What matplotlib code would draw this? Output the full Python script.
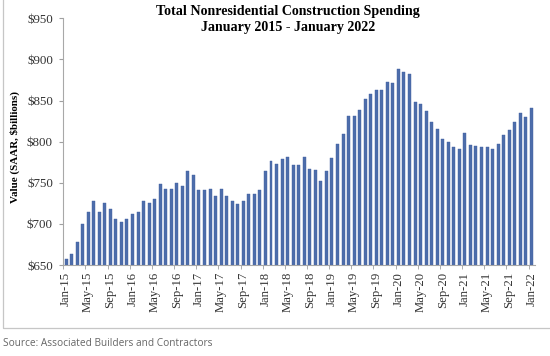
import matplotlib

matplotlib.use("Agg")
import matplotlib.pyplot as plt
import numpy as np
from matplotlib.patches import Rectangle

# monthly nonresidential construction spending, SAAR, $ billions
months = [f"{m}-{y:02d}" for y in range(15, 23) for m in
          ["Jan", "Feb", "Mar", "Apr", "May", "Jun",
           "Jul", "Aug", "Sep", "Oct", "Nov", "Dec"]][:85]
spend_2015 = [657, 663, 678, 700, 715, 728, 715, 726, 718, 706, 702, 706]
spend_2016 = [712, 715, 728, 726, 730, 748, 742, 743, 750, 746, 764, 760]
spend_2017 = [741, 741, 742, 734, 743, 734, 728, 724, 728, 736, 736, 741]
spend_2018 = [764, 777, 773, 779, 781, 771, 771, 781, 767, 766, 752, 764]
spend_2019 = [780, 797, 809, 831, 831, 839, 852, 858, 863, 863, 872, 871]
spend_2020 = [888, 885, 882, 848, 846, 837, 824, 815, 803, 800, 794, 791]
spend_2021 = [811, 796, 795, 793, 793, 791, 797, 808, 814, 824, 835, 830]
spend_2022 = [841]
spending = (spend_2015 + spend_2016 + spend_2017 + spend_2018
            + spend_2019 + spend_2020 + spend_2021 + spend_2022)
y_ticks = [650, 700, 750, 800, 850, 900, 950]

serif = ["Liberation Serif", "DejaVu Serif"]

fig = plt.figure(figsize=(5.5, 3.56), dpi=100)
fig.patch.set_facecolor("white")

# light grey frame around the chart
fig.patches.append(Rectangle((3 / 550, 1 - 328 / 356), 550 / 550, 330 / 356,
                             transform=fig.transFigure, fill=False,
                             edgecolor="#c6c6c6", linewidth=0.9))

ax = fig.add_axes([62.7 / 550, 1 - 265 / 356, 472 / 550, 246.7 / 356])
x = np.arange(len(spending))
ax.bar(x, np.array(spending) - 650, bottom=650, width=0.54,
       color="#4d6dab", edgecolor="#3f5f9f", linewidth=0.3)

ax.set_ylim(650, 950)
ax.set_xlim(-0.6, len(spending) - 0.4)
ax.set_yticks(y_ticks)
ax.set_yticklabels([f"${v}" for v in y_ticks], family=serif, fontsize=9.4,
                   color="#333333")
ax.set_xticks(x[::4])
ax.set_xticklabels(months[::4], rotation=90, family=serif, fontsize=9.2,
                   color="#333333")
ax.set_xticks(x[::4] - 0.5, minor=True)
ax.tick_params(axis="x", which="major", length=0, pad=5)
ax.tick_params(axis="x", which="minor", length=3, color="#a0a0a0")
ax.tick_params(axis="y", length=3, color="#a0a0a0", pad=4)

for side in ["top", "right"]:
    ax.spines[side].set_visible(False)
ax.spines["left"].set_color("#a8a8a8")
ax.spines["bottom"].set_color("#a8a8a8")

ax.set_ylabel("Value (SAAR, $billions)", family=serif, fontsize=7.9,
              fontweight="bold")
ax.yaxis.set_label_coords(-0.09, 0.478)

fig.text(288 / 550, 1 - 11 / 356, "Total Nonresidential Construction Spending",
         ha="center", va="center", family=serif, fontsize=10.1,
         fontweight="bold")
fig.text(288 / 550, 1 - 27 / 356, "January 2015 - January 2022",
         ha="center", va="center", family=serif, fontsize=10.1,
         fontweight="bold")

fig.text(3 / 550, 1 - 343 / 356, "Source: Associated Builders and Contractors",
         ha="left", va="center", family=["Open Sans", "DejaVu Sans"],
         fontsize=7.3, color="#666666")

fig.savefig("out.png", dpi=100)
